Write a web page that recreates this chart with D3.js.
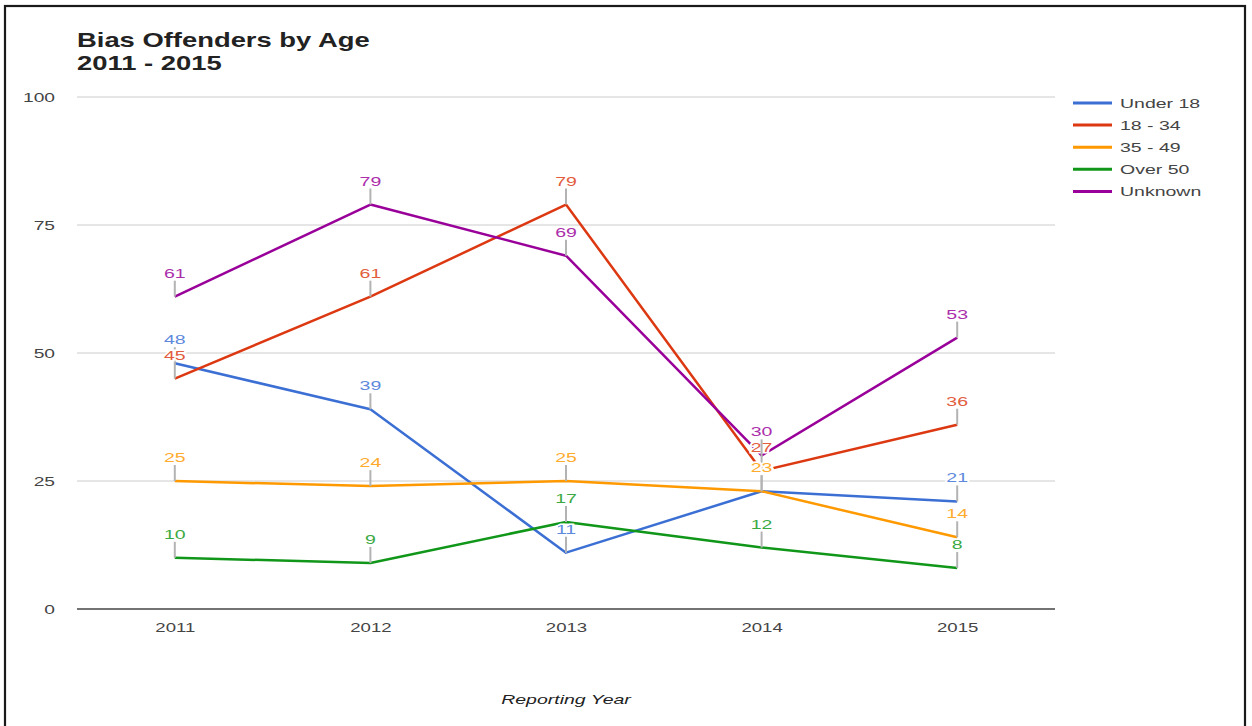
<!DOCTYPE html>
<html><head><meta charset="utf-8">
<script src="https://cdn.jsdelivr.net/npm/d3@7"></script>
<style>
  body { margin: 0; background: #fff; }
  svg { display: block; }
  text { font-family: "Liberation Sans", Arial, sans-serif; }
</style>
</head><body>
<svg id="chart" width="1252" height="726"></svg>
<script>
// Reporting years and counts of bias offenders per age group
const years = ["2011", "2012", "2013", "2014", "2015"];
const seriesNames = ["Under 18", "18 - 34", "35 - 49", "Over 50", "Unknown"];
const under18 = [48, 39, 11, 23, 21];
const age18to34 = [45, 61, 79, 27, 36];
const age35to49 = [25, 24, 25, 23, 14];
const over50 = [10, 9, 17, 12, 8];
const unknownAge = [61, 79, 69, 30, 53];
const yTicks = [0, 25, 50, 75, 100];

const colors = ["#3b6fd4", "#dc3912", "#ff9900", "#109618", "#990099"];
const seriesValues = [under18, age18to34, age35to49, over50, unknownAge];
const series = seriesNames.map((name, i) => ({
  name, color: colors[i],
  labelColor: d3.interpolateRgb(colors[i], "#ffffff")(0.18),
  points: years.map((yr, j) => ({ year: yr, value: seriesValues[i][j] }))
}));

const svg = d3.select("#chart");
const plot = { left: 77, right: 1055, top: 97, bottom: 609 };

const x = d3.scalePoint().domain(years).range([plot.left, plot.right]).padding(0.5);
const y = d3.scaleLinear().domain([0, 100]).range([plot.bottom, plot.top]);

// Wide-set lettering: text is stretched horizontally around its anchor
const SX = 1.5;

// Outer frame
svg.append("rect")
  .attr("x", 5).attr("y", 6).attr("width", 1240).attr("height", 760)
  .attr("fill", "none").attr("stroke", "#1a1a1a").attr("stroke-width", 2.2);

// Title
const title = svg.append("g").attr("fill", "#222").attr("font-weight", "bold").attr("font-size", 20);
["Bias Offenders by Age", "2011 - 2015"].forEach((t, i) => {
  title.append("text")
    .attr("transform", `translate(77,${47 + i * 23}) scale(1.37,1)`)
    .text(t);
});

// Horizontal gridlines
svg.append("g")
  .selectAll("line")
  .data(yTicks.filter(d => d !== 0))
  .join("line")
  .attr("x1", plot.left).attr("x2", plot.right)
  .attr("y1", d => y(d)).attr("y2", d => y(d))
  .attr("stroke", "#cccccc").attr("stroke-width", 1);

// Y axis labels
const yAxis = svg.append("g")
  .attr("transform", `translate(${plot.left},0)`)
  .call(d3.axisLeft(y).tickValues(yTicks).tickSize(0).tickFormat(d3.format("d")));
yAxis.select(".domain").remove();
yAxis.selectAll("text")
  .attr("x", 0).attr("dy", "0.35em")
  .attr("transform", `translate(-22,0) scale(1.6,1)`)
  .attr("text-anchor", "end")
  .attr("font-size", 12).attr("font-family", null).attr("fill", "#444");

// X axis labels
const xAxis = svg.append("g")
  .attr("transform", `translate(0,${plot.bottom})`)
  .call(d3.axisBottom(x).tickSize(0));
xAxis.select(".domain").remove();
xAxis.selectAll("text")
  .attr("y", 0).attr("dy", null)
  .attr("transform", `translate(0,23) scale(1.55,1)`)
  .attr("font-size", 12).attr("font-family", null).attr("fill", "#444");

// Baseline
svg.append("line")
  .attr("x1", plot.left).attr("x2", plot.right)
  .attr("y1", y(0)).attr("y2", y(0))
  .attr("stroke", "#444").attr("stroke-width", 1.6);

// Axis title
svg.append("text")
  .attr("transform", `translate(${(plot.left + plot.right) / 2},704) scale(${SX},1)`)
  .attr("text-anchor", "middle")
  .attr("font-size", 13).attr("font-style", "italic").attr("fill", "#222")
  .text("Reporting Year");

// Series lines
const line = d3.line().x(d => x(d.year)).y(d => y(d.value));
svg.append("g")
  .selectAll("path")
  .data(series)
  .join("path")
  .attr("d", d => line(d.points))
  .attr("fill", "none")
  .attr("stroke", d => d.color)
  .attr("stroke-width", 2.5)
  .attr("stroke-linejoin", "round");

// Value annotations: a short grey stem above each point and the value on top
const STEM = 16;
series.forEach(s => {
  const g = svg.append("g");
  g.selectAll("line")
    .data(s.points)
    .join("line")
    .attr("x1", d => x(d.year)).attr("x2", d => x(d.year))
    .attr("y1", d => y(d.value)).attr("y2", d => y(d.value) - STEM)
    .attr("stroke", "#b3b3b3").attr("stroke-width", 2);
  g.selectAll("text")
    .data(s.points)
    .join("text")
    .attr("transform", d => `translate(${x(d.year)},${y(d.value) - STEM - 3}) scale(${SX},1)`)
    .attr("text-anchor", "middle")
    .attr("font-size", 13)
    .attr("fill", s.labelColor)
    .attr("stroke", "#fff").attr("stroke-width", 3).attr("paint-order", "stroke")
    .text(d => d.value);
});

// Legend
const legend = svg.append("g").attr("transform", "translate(1073,103)");
const item = legend.selectAll("g")
  .data(series)
  .join("g")
  .attr("transform", (d, i) => `translate(0,${i * 22.1})`);
item.append("line")
  .attr("x1", 0).attr("x2", 39).attr("y1", 0).attr("y2", 0)
  .attr("stroke", d => d.color).attr("stroke-width", 3);
item.append("text")
  .attr("transform", `translate(47,4.5) scale(${SX},1)`)
  .attr("font-size", 13).attr("fill", "#444")
  .text(d => d.name);
</script>
</body></html>
